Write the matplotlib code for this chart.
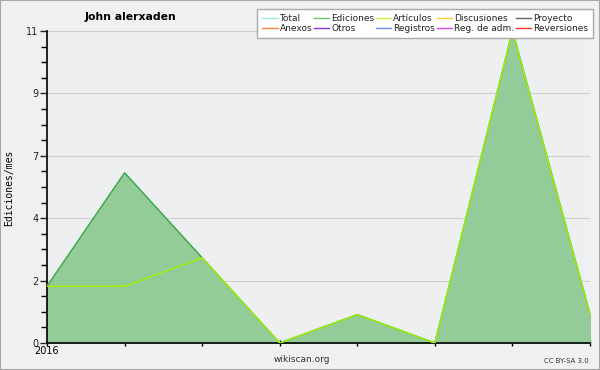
"""
Monthly edits chart (wikiscan style) for a single user.
"""

import matplotlib
matplotlib.use("Agg")
import matplotlib.pyplot as plt
from matplotlib.lines import Line2D
from matplotlib.patches import Rectangle
from matplotlib.ticker import AutoMinorLocator, FixedLocator, FixedFormatter
import numpy as np

# data, one value per month
months = ["2016", "", "", "", "", "", "", ""]
total = [2, 6, 3, 0, 1, 0, 11, 1]
ediciones = [2, 6, 3, 0, 1, 0, 11, 1]
articulos = [2, 2, 3, 0, 1, 0, 11, 1]

legend_rows = [
    ["Total", "Ediciones", "Artículos", "Discusiones", "Proyecto"],
    ["Anexos", "Otros", "Registros", "Reg. de adm.", "Reversiones"],
]
legend_colors = {
    "Total": "#99e6e6", "Ediciones": "#66c266", "Artículos": "#c8f03c",
    "Discusiones": "#ffcc33", "Proyecto": "#666666", "Anexos": "#ff8844",
    "Otros": "#8833ee", "Registros": "#7788ff", "Reg. de adm.": "#dd44ee",
    "Reversiones": "#ff3333",
}

fig = plt.figure(figsize=(6, 3.7), dpi=100, facecolor="#f0f0f0")
fig.patches.append(Rectangle((0, 0), 1, 1, transform=fig.transFigure,
                             fill=False, edgecolor="#a8a8a8", linewidth=1.5))

ax = fig.add_axes([47 / 600, 27 / 370, 543 / 600, 312 / 370])
ax.set_facecolor("#eeeff1")

x = np.arange(len(total))
ax.fill_between(x, 0, ediciones, color="#93cc99", zorder=2)
ax.plot(x, total, color=legend_colors["Total"], linewidth=1, zorder=3)
ax.plot(x, ediciones, color="#3aa63a", linewidth=1, zorder=4)
ax.plot(x, articulos, color="#a6f000", linewidth=1, zorder=5)

ax.set_xlim(0, len(total) - 1)
ax.set_ylim(0, 11)

# y axis: six evenly spaced ticks, rounded labels
yticks = np.linspace(0, 11, 6)
ax.yaxis.set_major_locator(FixedLocator(yticks))
ax.yaxis.set_major_formatter(FixedFormatter([str(int(round(v))) for v in yticks]))
ax.yaxis.set_minor_locator(AutoMinorLocator(4))
ax.tick_params(axis="y", which="major", length=5, width=1, labelsize=7,
               pad=1, colors="#222222")
ax.tick_params(axis="y", which="minor", length=4, width=1)

ax.set_xticks(x)
ax.set_xticklabels(months)
ax.tick_params(axis="x", which="major", length=4, width=1, labelsize=7,
               pad=0, direction="inout")

ax.grid(axis="y", color="#cfcfcf", linewidth=0.8, zorder=1)
ax.set_axisbelow(True)
for side in ["top", "right"]:
    ax.spines[side].set_visible(False)
ax.spines["left"].set_linewidth(1.2)
ax.spines["bottom"].set_linewidth(1.2)

fig.text(9 / 600, 1 - 188 / 370, "Ediciones/mes", fontsize=7,
         family="DejaVu Sans Mono", rotation=90, ha="center", va="center")

# legend, row-major order in a 5-column grid
handles, labels = [], []
for col in range(5):
    for row in legend_rows:
        name = row[col]
        handles.append(Line2D([], [], color=legend_colors[name], linewidth=1))
        labels.append(name)
leg = ax.legend(handles, labels, ncol=5, fontsize=6.5, loc="upper right",
                bbox_to_anchor=(593 / 600, 1 - 9 / 370),
                bbox_transform=fig.transFigure, frameon=True, fancybox=False,
                handlelength=1.7, handletextpad=0.2, columnspacing=0.2,
                labelspacing=0.08, borderpad=0.55, borderaxespad=0)
leg.get_frame().set_edgecolor("#aaaaaa")
leg.get_frame().set_facecolor("white")
leg.get_frame().set_alpha(1)
leg.set_zorder(10)
for t in leg.get_texts():
    t.set_color("#222222")

fig.text(130 / 600, 1 - 17 / 370, "John alerxaden", fontsize=7.8,
         fontweight="bold", ha="center", va="center")
fig.text(302 / 600, 1 - 360 / 370, "wikiscan.org", fontsize=6.5,
         ha="center", va="center", color="#333333")
fig.text(589 / 600, 1 - 361 / 370, "CC BY-SA 3.0", fontsize=5,
         ha="right", va="center", color="#333333")

fig.savefig("out.png", dpi=100, facecolor=fig.get_facecolor())
